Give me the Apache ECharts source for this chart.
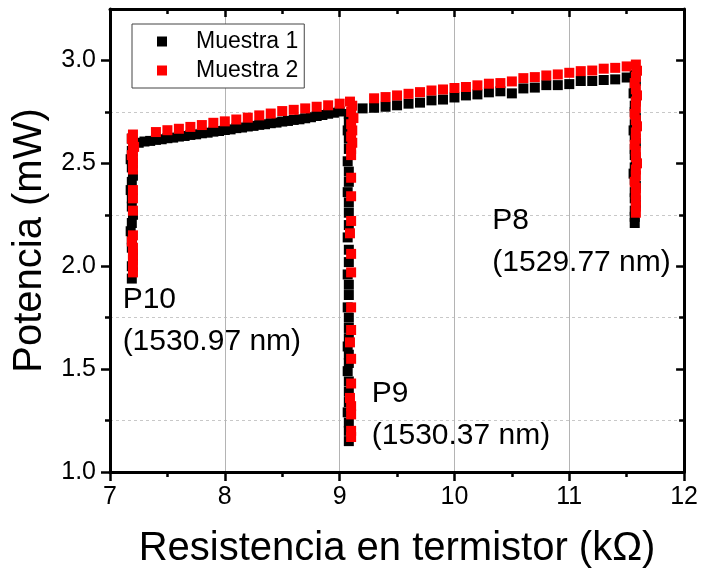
<!DOCTYPE html>
<html>
<head>
<meta charset="utf-8">
<script src="https://cdn.jsdelivr.net/npm/echarts@6/dist/echarts.min.js"></script>
<style>
  html, body { margin: 0; padding: 0; background: #ffffff; }
  #chart { width: 701px; height: 576px; }
</style>
</head>
<body>
<div id="chart"></div>
<script>
// ---- Muestra 1 (black) ----
// P10 drop near 7.2 kΩ
const m1P10X = [7.19, 7.20, 7.19, 7.18, 7.19, 7.20, 7.19, 7.18, 7.19, 7.19, 7.20, 7.19, 7.18, 7.19, 7.19, 7.20, 7.19, 7.19];
const m1P10Y = [2.62, 2.59, 2.56, 2.52, 2.48, 2.44, 2.41, 2.37, 2.33, 2.29, 2.25, 2.21, 2.17, 2.13, 2.09, 2.05, 2.00, 1.94];
// rising branch 7.25 - 9.0 kΩ
const m1RiseAX = [7.25, 7.30, 7.35, 7.40, 7.45, 7.50, 7.55, 7.60, 7.65, 7.70, 7.75, 7.80, 7.85, 7.90, 7.95, 8.00, 8.05, 8.10,
                  8.15, 8.20, 8.25, 8.30, 8.35, 8.40, 8.45, 8.50, 8.55, 8.60, 8.65, 8.70, 8.75, 8.80, 8.85, 8.90, 8.95, 9.00];
const m1RiseAY = [2.600, 2.606, 2.609, 2.614, 2.617, 2.622, 2.625, 2.630, 2.633, 2.638, 2.641, 2.646, 2.649, 2.654, 2.657, 2.662, 2.665, 2.671,
                  2.674, 2.679, 2.682, 2.687, 2.690, 2.695, 2.698, 2.703, 2.706, 2.711, 2.714, 2.719, 2.724, 2.730, 2.735, 2.741, 2.746, 2.752];
// P9 drop near 9.08 kΩ
const m1P9X = [9.08, 9.08, 9.07, 9.08, 9.08, 9.07, 9.08, 9.08, 9.07, 9.08, 9.08, 9.08, 9.07, 9.08, 9.08, 9.07, 9.08,
               9.08, 9.07, 9.08, 9.08, 9.08, 9.07, 9.08, 9.08, 9.07, 9.08, 9.08, 9.08, 9.07, 9.08, 9.08, 9.08];
const m1P9Y = [2.74, 2.70, 2.66, 2.62, 2.57, 2.51, 2.46, 2.41, 2.36, 2.31, 2.26, 2.20, 2.14, 2.08, 2.02, 1.96, 1.91,
               1.86, 1.80, 1.75, 1.70, 1.65, 1.61, 1.57, 1.53, 1.49, 1.44, 1.39, 1.34, 1.29, 1.24, 1.20, 1.15];
// rising branch 9.2 - 11.5 kΩ
const m1RiseBX = [9.2, 9.3, 9.4, 9.5, 9.6, 9.7, 9.8, 9.9, 10.0, 10.1, 10.2, 10.3, 10.4, 10.5, 10.6, 10.7, 10.8, 10.9, 11.0, 11.1, 11.2, 11.3, 11.4, 11.5];
const m1RiseBY = [2.767, 2.770, 2.775, 2.782, 2.790, 2.795, 2.806, 2.810, 2.820, 2.830, 2.835, 2.845, 2.850, 2.840, 2.864, 2.868, 2.880, 2.880, 2.885, 2.900, 2.900, 2.905, 2.908, 2.917];
// P8 drop near 11.57 kΩ
const m1P8X = [11.57, 11.58, 11.57, 11.56, 11.58, 11.57, 11.57, 11.58, 11.57, 11.56, 11.57, 11.58, 11.57, 11.57, 11.58, 11.57, 11.56, 11.57, 11.58, 11.57, 11.57, 11.58, 11.57, 11.57, 11.57];
const m1P8Y = [2.93, 2.90, 2.87, 2.84, 2.81, 2.78, 2.75, 2.72, 2.69, 2.66, 2.63, 2.60, 2.57, 2.54, 2.51, 2.48, 2.45, 2.42, 2.39, 2.36, 2.33, 2.30, 2.27, 2.24, 2.21];

// ---- Muestra 2 (red) ----
const m2P10X = [7.20, 7.19, 7.20, 7.21, 7.20, 7.19, 7.20, 7.20, 7.20, 7.20, 7.20, 7.20, 7.20, 7.19, 7.20, 7.20, 7.20, 7.20, 7.20];
const m2P10Y = [2.64, 2.62, 2.60, 2.58, 2.56, 2.54, 2.52, 2.50, 2.47, 2.37, 2.33, 2.27, 2.15, 2.12, 2.09, 2.06, 2.03, 2.00, 1.97];
const m2RiseAX = [7.4, 7.5, 7.6, 7.7, 7.8, 7.9, 8.0, 8.1, 8.2, 8.3, 8.4, 8.5, 8.6, 8.7, 8.8, 8.9, 9.0];
const m2RiseAY = [2.652, 2.661, 2.668, 2.677, 2.686, 2.697, 2.704, 2.713, 2.722, 2.733, 2.742, 2.754, 2.760, 2.767, 2.775, 2.782, 2.790];
const m2P9X = [9.09, 9.11, 9.10, 9.12, 9.10, 9.11, 9.10, 9.11, 9.10, 9.10, 9.10, 9.10, 9.10, 9.09, 9.10, 9.10, 9.10, 9.10, 9.09, 9.10, 9.10, 9.09, 9.10, 9.10, 9.10, 9.10];
const m2P9Y = [2.80, 2.78, 2.75, 2.72, 2.69, 2.66, 2.63, 2.60, 2.57, 2.54, 2.43, 2.34, 2.22, 2.16, 2.06, 1.97, 1.80, 1.69, 1.63, 1.55, 1.43, 1.36, 1.32, 1.28, 1.20, 1.17];
const m2RiseBX = [9.3, 9.4, 9.5, 9.6, 9.7, 9.8, 9.9, 10.0, 10.1, 10.2, 10.3, 10.4, 10.5, 10.6, 10.7, 10.8, 10.9, 11.0, 11.1, 11.2, 11.3, 11.4, 11.5];
const m2RiseBY = [2.816, 2.822, 2.830, 2.838, 2.846, 2.854, 2.859, 2.866, 2.871, 2.879, 2.887, 2.890, 2.898, 2.914, 2.919, 2.927, 2.932, 2.940, 2.948, 2.951, 2.960, 2.964, 2.971];
const m2P8X = [11.58, 11.59, 11.58, 11.57, 11.58, 11.59, 11.58, 11.58, 11.57, 11.58, 11.59, 11.58, 11.58, 11.57, 11.58, 11.58, 11.59, 11.58, 11.58, 11.57, 11.58, 11.58, 11.58, 11.58, 11.58];
const m2P8Y = [2.98, 2.95, 2.92, 2.89, 2.86, 2.83, 2.80, 2.77, 2.74, 2.71, 2.68, 2.65, 2.62, 2.59, 2.56, 2.53, 2.50, 2.47, 2.44, 2.41, 2.38, 2.35, 2.32, 2.29, 2.26];

// peak annotations
const peakText = ['P10\n(1530.97 nm)', 'P9\n(1530.37 nm)', 'P8\n(1529.77 nm)'];
const peakX = [7.11, 9.28, 10.33];
const peakY = [1.733, 1.279, 2.117];

// axis ticks
const yMajorTicks = [1.0, 1.5, 2.0, 2.5, 3.0];
const yMinorTicks = [1.25, 1.75, 2.25, 2.75];

const FONT = "'Liberation Sans', Arial, sans-serif";

function pairs(xs, ys) { return xs.map((x, i) => [x, ys[i]]); }

const muestra1 = [].concat(pairs(m1P10X, m1P10Y), pairs(m1RiseAX, m1RiseAY), pairs(m1P9X, m1P9Y), pairs(m1RiseBX, m1RiseBY), pairs(m1P8X, m1P8Y));
const muestra2 = [].concat(pairs(m2P10X, m2P10Y), pairs(m2RiseAX, m2RiseAY), pairs(m2P9X, m2P9Y), pairs(m2RiseBX, m2RiseBY), pairs(m2P8X, m2P8Y));

const Y_MIN = 1.0, Y_MAX = 3.25;

function yOverlay(position, ticks, len, inside, showLine) {
  return {
    type: 'value', position: position, min: Y_MIN, max: Y_MAX, interval: 0.25,
    axisLine: { show: showLine, onZero: false, lineStyle: { color: '#000', width: 3 } },
    axisTick: { show: true, customValues: ticks, length: len, inside: inside, lineStyle: { color: '#000', width: 2.5 } },
    axisLabel: { show: false },
    splitLine: { show: false }
  };
}

const chart = echarts.init(document.getElementById('chart'), null, { renderer: 'canvas' });
chart.setOption({
  animation: false,
  backgroundColor: '#ffffff',
  grid: { left: 110, right: 15, top: 9, bottom: 104 },
  legend: {
    data: ['Muestra 1', 'Muestra 2'],
    orient: 'vertical', left: 132, top: 24,
    padding: [6, 6, 6, 25], itemGap: 6,
    itemWidth: 10, itemHeight: 10, icon: 'rect',
    borderColor: '#444', borderWidth: 1, backgroundColor: '#ffffff',
    textStyle: { fontFamily: FONT, fontSize: 23, color: '#000', padding: [0, 0, 0, 24] }
  },
  xAxis: [
    {
      type: 'value', position: 'bottom', min: 7, max: 12, interval: 1,
      name: 'Resistencia en termistor (kΩ)', nameLocation: 'middle', nameGap: 57,
      nameTextStyle: { fontFamily: FONT, fontSize: 40, color: '#000' },
      axisLine: { onZero: false, lineStyle: { color: '#000', width: 3 } },
      axisTick: { length: 9, lineStyle: { color: '#000', width: 2.5 } },
      minorTick: { show: true, splitNumber: 2, length: 5, lineStyle: { color: '#000', width: 2.5 } },
      axisLabel: { margin: 13, fontFamily: FONT, fontSize: 25, color: '#000' },
      splitLine: { show: true, lineStyle: { color: '#b4b4b4', width: 1 } }
    },
    {
      type: 'value', position: 'top', min: 7, max: 12, interval: 1,
      axisLine: { onZero: false, lineStyle: { color: '#000', width: 3 } },
      axisTick: { inside: true, length: 8, lineStyle: { color: '#000', width: 2.5 } },
      minorTick: { show: true, splitNumber: 2, length: 5, lineStyle: { color: '#000', width: 2.5 } },
      axisLabel: { show: false },
      splitLine: { show: false }
    }
  ],
  yAxis: [
    {
      type: 'value', position: 'left', min: Y_MIN, max: Y_MAX, interval: 0.25,
      name: 'Potencia (mW)', nameLocation: 'middle', nameGap: 60,
      nameTextStyle: { fontFamily: FONT, fontSize: 40, color: '#000' },
      axisLine: { onZero: false, lineStyle: { color: '#000', width: 3 } },
      axisTick: { show: false },
      axisLabel: {
        margin: 14, fontFamily: FONT, fontSize: 25, color: '#000',
        formatter: function (v) {
          const onMajor = yMajorTicks.some(t => Math.abs(t - v) < 1e-6);
          return onMajor ? v.toFixed(1) : '';
        }
      },
      splitLine: { show: true, lineStyle: { color: ['rgba(0,0,0,0)', '#c8c8c8'], width: 1, type: [3, 3] } }
    },
    yOverlay('left', yMajorTicks, 9, false, false),
    yOverlay('left', yMinorTicks, 5, false, false),
    yOverlay('right', yMajorTicks, 8, true, true),
    yOverlay('right', yMinorTicks, 5, true, false)
  ],
  series: [
    {
      name: 'Muestra 1', type: 'scatter', xAxisIndex: 0, yAxisIndex: 0,
      symbol: 'rect', symbolSize: 10,
      itemStyle: { color: '#000000', opacity: 1 },
      data: muestra1, z: 2
    },
    {
      name: 'Muestra 2', type: 'scatter', xAxisIndex: 0, yAxisIndex: 0,
      symbol: 'rect', symbolSize: 10,
      itemStyle: { color: '#ff0000', opacity: 1 },
      data: muestra2, z: 3
    },
    {
      name: 'peaks', type: 'scatter', xAxisIndex: 0, yAxisIndex: 0,
      silent: true, symbolSize: 1, itemStyle: { color: 'rgba(255,255,255,0)', opacity: 1 },
      data: peakX.map((x, i) => ({ value: [x, peakY[i]], label: { formatter: peakText[i] } })),
      label: {
        show: true, position: 'inside', align: 'left', verticalAlign: 'middle',
        fontFamily: FONT, fontSize: 30, lineHeight: 42, color: '#000', opacity: 1
      },
      z: 4
    }
  ]
});
</script>
</body>
</html>
